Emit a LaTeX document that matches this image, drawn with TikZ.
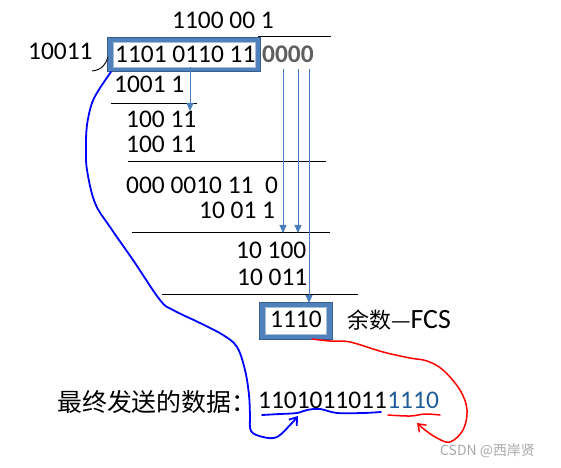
\documentclass[tikz,border=0pt]{standalone}
\usepackage{fontspec}
\setmainfont{Carlito}
\newfontfamily\cjk{Noto Sans CJK SC}
\usetikzlibrary{arrows.meta}
\definecolor{frameblue}{HTML}{4F81BD}
\definecolor{frameedge}{HTML}{385D8A}
\definecolor{innerline}{HTML}{A9BCD6}
\definecolor{pullblue}{HTML}{4A7EBB}
\definecolor{fcsblue}{HTML}{1F5C99}
\definecolor{padgray}{HTML}{5F5F5F}
\definecolor{markgray}{HTML}{A8A8A8}
\begin{document}
\begin{tikzpicture}[x=1bp,y=-1bp,
    num/.style={inner sep=0pt, anchor=base west, font=\fontsize{25.5}{30}\selectfont},
    rule/.style={line width=0.9bp},
    pull/.style={draw=pullblue, line width=1bp, -{Triangle[length=8bp,width=7bp]}, fill=pullblue},
    ink/.style={line width=1.8bp, line cap=round, line join=round}]
    \useasboundingbox (0,0) rectangle (561,468);

    % Frames
    \draw[draw=frameedge, fill=frameblue, line width=0.8bp] (107,37) rectangle (260,71);
    \draw[draw=innerline, fill=white, line width=0.8bp] (113,42) rectangle (255,67);
    \draw[draw=frameedge, fill=frameblue, line width=0.8bp] (259,302) rectangle (332,339);
    \draw[draw=innerline, fill=white, line width=0.8bp] (265,307) rectangle (326,334);

    % Labels
    \node[num] (quot) at (172,29) {1100 00 1};
    \node[num] (divisor) at (28,60) {10011};
    \node[num] (dividend) at (115,63) {1101 0110 11};
    \node[num, text=padgray, font=\fontsize{25.5}{30}\selectfont\bfseries] (pad) at (262,63) {0000};
    \node[num] (p1) at (114,93) {1001 1};
    \node[num] (r1) at (126,128) {100 11};
    \node[num] (p2) at (126,153) {100 11};
    \node[num] (r2) at (126,194) {000 0010 11\ \ 0};
    \node[num] (p3) at (199,219) {10 01 1};
    \node[num] (r3) at (236,259) {10 100};
    \node[num] (p4) at (237,285) {10 011};
    \node[num] (fcs) at (270,327) {1110};
    \node[anchor=base west, inner sep=0pt, font=\fontsize{28}{32}\selectfont] (rem) at (347,328) {{\cjk\fontsize{22}{26}\selectfont 余数—}FCS};
    \node[anchor=base west, inner sep=0pt, font=\cjk\fontsize{25}{28}\selectfont] (sent) at (57,411) {最终发送的数据：};
    \node[num] (data) at (258,408) {1101011011};
    \node[num, text=fcsblue] (tail) at (data.base east) {1110};
    \node[anchor=base west, inner sep=0pt, text=markgray, font=\cjk\fontsize{14}{16}\selectfont] (mark) at (440,455) {CSDN @西岸贤};

    % Rules
    \draw[rule] (258,36) -- (331,36);
    \draw[rule] (92,71) .. controls (102,70) and (106,64) .. (108,57);
    \draw[rule] (111,103) -- (197,103);
    \draw[rule] (128,161) -- (326,161);
    \draw[rule] (132,232) -- (330,232);
    \draw[rule] (162,294) -- (358,294);

    % Pull-down arrows
    \coordinate (s1) at (190,67);  \coordinate (e1) at (190,111);
    \coordinate (s2) at (283,69);  \coordinate (e2) at (283,233);
    \coordinate (s3) at (298,69);  \coordinate (e3) at (298,233);
    \coordinate (s4) at (309,69);  \coordinate (e4) at (309,303);
    \foreach \k in {1,2,3,4} {
        \draw[pull] (s\k) -- (e\k);
    }

    % Hand strokes
    \coordinate (bstart) at (111,72);
    \coordinate (bend) at (298,416);
    \draw[ink, blue, -{Straight Barb[length=7bp,width=10bp]}] plot[smooth, tension=0.6] coordinates {
        (bstart) (100,88) (92,103) (87,125) (86,147) (87,170) (95,203) (110,227)
        (133,260) (160,300) (173,310) (200,323) (223,335) (237,347) (245,370)
        (249,395) (250,415) (251,431) (263,437) (277,437) (291,424) (bend)};
    \draw[ink, blue] plot[smooth, tension=0.6] coordinates {
        (262,415) (280,414) (297,413) (307,410) (320,409) (337,413) (363,413) (381,412)};
    \coordinate (rstart) at (312,339);
    \coordinate (rend) at (417,423);
    \draw[ink, red, line width=1.5bp, -{Straight Barb[length=7bp,width=10bp]}] plot[smooth, tension=0.6] coordinates {
        (rstart) (330,341) (350,342) (383,352) (410,358) (427,361) (443,370)
        (460,390) (467,410) (463,430) (450,442) (437,438) (425,430) (rend)};
    \draw[ink, red, line width=1.5bp] plot[smooth, tension=0.6] coordinates {
        (388,415) (410,416) (425,414) (440,415)};
\end{tikzpicture}
\end{document}
